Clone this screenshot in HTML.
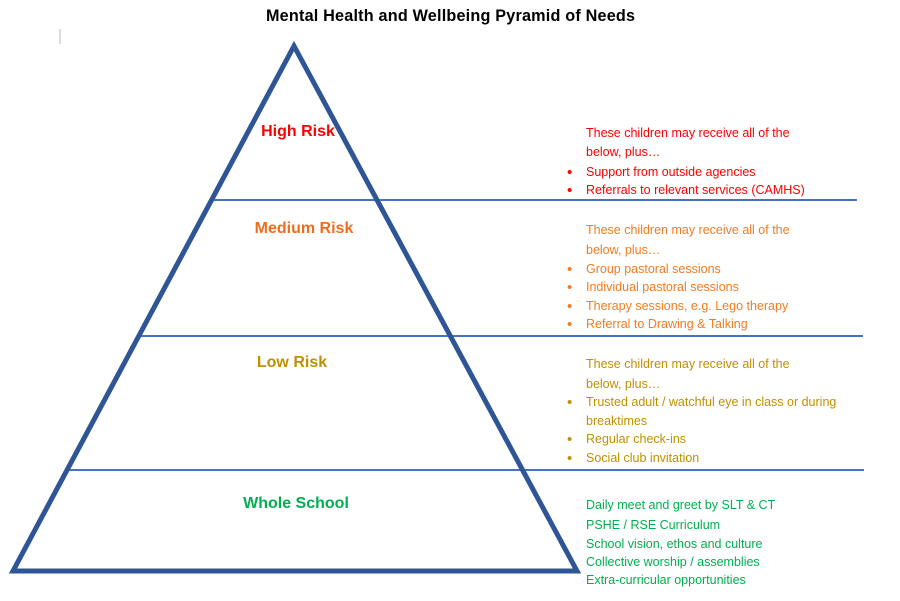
<!DOCTYPE html>
<html><head><meta charset="utf-8"><style>
body{margin:0;width:900px;height:601px;background:#fff;position:relative;overflow:hidden;font-family:"Liberation Sans",sans-serif}
.t{position:absolute;white-space:nowrap}
.h{font-weight:bold;font-size:16px;transform:translateX(-50%)}
.l{position:absolute;left:586px;font-size:12.5px;white-space:nowrap;line-height:19px}
.b::before{content:"•";position:absolute;left:-19px;font-size:15px}
</style></head><body>
<svg width="900" height="601" style="position:absolute;left:0;top:0">
<line x1="60" y1="29" x2="60" y2="44" stroke="#bbb" stroke-width="1"/>
<line x1="213" y1="200" x2="857" y2="200" stroke="#4472C4" stroke-width="2"/>
<line x1="140" y1="336" x2="863" y2="336" stroke="#4472C4" stroke-width="2"/>
<line x1="68" y1="470" x2="864" y2="470" stroke="#4472C4" stroke-width="2"/>
<polygon points="294,46 13,571 577,571" fill="none" stroke="#2F5597" stroke-width="5" stroke-linejoin="miter"/>
</svg>
<div class="t" style="left:266px;top:7px;font-weight:bold;font-size:16.2px;letter-spacing:0.2px">Mental Health and Wellbeing Pyramid of Needs</div>
<div class="t h" style="left:298px;top:123px;color:#FF0000">High Risk</div>
<div class="t h" style="left:304px;top:220px;color:#F26C1E">Medium Risk</div>
<div class="t h" style="left:292px;top:354px;color:#BF9000">Low Risk</div>
<div class="t h" style="left:296px;top:495px;color:#00B050">Whole School</div>
<div style="color:#FF0000">
<div class="l" style="top:124px">These children may receive all of the</div>
<div class="l" style="top:143px">below, plus…</div>
<div class="l b" style="top:163px">Support from outside agencies</div>
<div class="l b" style="top:181px">Referrals to relevant services (CAMHS)</div>
</div>
<div style="color:#F47B20">
<div class="l" style="top:221px">These children may receive all of the</div>
<div class="l" style="top:241px">below, plus…</div>
<div class="l b" style="top:260px">Group pastoral sessions</div>
<div class="l b" style="top:278px">Individual pastoral sessions</div>
<div class="l b" style="top:297px">Therapy sessions, e.g. Lego therapy</div>
<div class="l b" style="top:315px">Referral to Drawing &amp; Talking</div>
</div>
<div style="color:#BF9000">
<div class="l" style="top:355px">These children may receive all of the</div>
<div class="l" style="top:375px">below, plus…</div>
<div class="l b" style="top:393px">Trusted adult / watchful eye in class or during</div>
<div class="l" style="top:412px">breaktimes</div>
<div class="l b" style="top:430px">Regular check-ins</div>
<div class="l b" style="top:449px">Social club invitation</div>
</div>
<div style="color:#00B050">
<div class="l" style="top:496px">Daily meet and greet by SLT &amp; CT</div>
<div class="l" style="top:516px">PSHE / RSE Curriculum</div>
<div class="l" style="top:535px">School vision, ethos and culture</div>
<div class="l" style="top:553px">Collective worship / assemblies</div>
<div class="l" style="top:571px">Extra-curricular opportunities</div>
</div>
</body></html>
